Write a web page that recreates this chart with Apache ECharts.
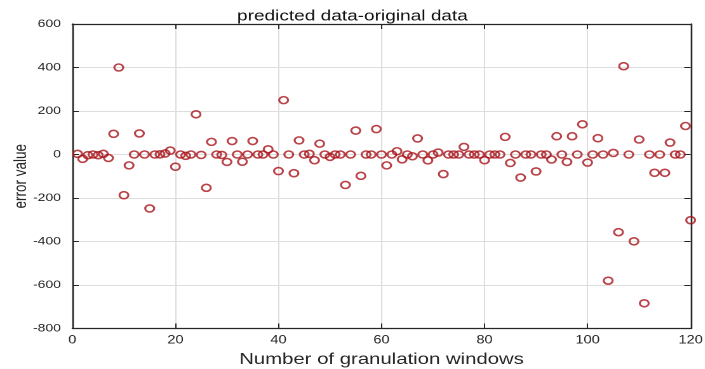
<!DOCTYPE html>
<html>
<head>
<meta charset="utf-8">
<title>predicted data-original data</title>
<script src="https://cdn.jsdelivr.net/npm/echarts@6/dist/echarts.min.js"></script>
<style>
  html, body { margin: 0; padding: 0; background: #ffffff; overflow: hidden; }
  #wrap { width: 705px; height: 369px; overflow: hidden; }
  /* the figure is drawn narrow and widened, like a stretched export */
  #chart { width: 555px; height: 369px; transform: scaleX(1.27); transform-origin: 0 0; }
</style>
</head>
<body>
<div id="wrap"><div id="chart"></div></div>
<script>
// granulation window index
const windows = [
  1, 2, 3, 4, 5, 6, 7, 8, 9, 10, 11, 12, 13, 14, 15, 16, 17, 18, 19, 20,
  21, 22, 23, 24, 25, 26, 27, 28, 29, 30, 31, 32, 33, 34, 35, 36, 37, 38, 39, 40,
  41, 42, 43, 44, 45, 46, 47, 48, 49, 50, 51, 52, 53, 54, 55, 56, 57, 58, 59, 60,
  61, 62, 63, 64, 65, 66, 67, 68, 69, 70, 71, 72, 73, 74, 75, 76, 77, 78, 79, 80,
  81, 82, 83, 84, 85, 86, 87, 88, 89, 90, 91, 92, 93, 94, 95, 96, 97, 98, 99, 100,
  101, 102, 103, 104, 105, 106, 107, 108, 109, 110, 111, 112, 113, 114, 115, 116, 117, 118, 119, 120
];

// predicted minus original, per window
const errorValues = [
  3, -20, -3, 0, -3, 3, -16, 95, 400, -187, -50, 0, 97, 0, -248, 0, 1, 5, 18, -56,
  0, -6, 0, 185, -2, -153, 58, 0, -2, -34, 62, 0, -33, 0, 62, 0, 0, 24, 0, -76,
  250, 0, -86, 65, 0, 3, -26, 50, 0, -11, 0, 0, -140, 0, 110, -98, 0, 0, 117, 0,
  -50, 0, 15, -22, 0, -8, 74, 0, -27, 0, 9, -90, 0, 0, 0, 35, 0, 0, 0, -26,
  0, 0, 0, 81, -39, 0, -106, 0, 0, -78, 0, 0, -23, 84, 0, -34, 84, 0, 139, -37,
  0, 75, 0, -580, 7, -357, 406, 0, -399, 69, -684, 0, -84, 0, -84, 55, 0, 0, 131, -302
];

const xTicks = [0, 20, 40, 60, 80, 100, 120];
const yTicks = [-800, -600, -400, -200, 0, 200, 400, 600];

const titleText = 'predicted data-original data';
const xName = 'Number of granulation windows';
const yName = 'error value';

const points = windows.map((w, i) => [w, errorValues[i]]);

const FONT = '"Liberation Sans", Arial, sans-serif';
const INK = '#262626';
const AXIS = '#262626';
const GRID = '#dedede';
const MARK = '#a8141a';

const chart = echarts.init(document.getElementById('chart'), null, { renderer: 'canvas', devicePixelRatio: 2 });

const tickStyle = { show: true, inside: true, length: 5, lineStyle: { color: AXIS, width: 1 } };
const lineStyle = { show: true, onZero: false, lineStyle: { color: AXIS, width: 1.3 } };

chart.setOption({
  backgroundColor: '#ffffff',
  animation: false,
  title: {
    text: titleText,
    left: 'center',
    top: 4,
    textStyle: { fontFamily: FONT, fontSize: 15, fontWeight: 'normal', color: '#111111' }
  },
  grid: { left: 57, right: 11.2, top: 24, bottom: 40.5, containLabel: false, outerBoundsMode: 'none' },
  xAxis: [
    {
      type: 'value',
      position: 'bottom',
      min: xTicks[0],
      max: xTicks[xTicks.length - 1],
      interval: xTicks[1] - xTicks[0],
      name: xName,
      nameLocation: 'middle',
      nameGap: 20,
      nameTextStyle: { fontFamily: FONT, fontSize: 16, color: INK },
      axisLine: lineStyle,
      axisTick: tickStyle,
      axisLabel: {
        margin: 6, fontFamily: FONT, fontSize: 11.5, color: INK,
        formatter: v => xTicks.includes(v) ? String(v) : ''
      },
      splitLine: { show: true, lineStyle: { color: GRID, width: 1 } }
    },
    {
      type: 'value',
      position: 'top',
      min: xTicks[0],
      max: xTicks[xTicks.length - 1],
      interval: xTicks[1] - xTicks[0],
      axisLine: lineStyle,
      axisTick: tickStyle,
      axisLabel: { show: false },
      splitLine: { show: false }
    }
  ],
  yAxis: [
    {
      type: 'value',
      position: 'left',
      min: yTicks[0],
      max: yTicks[yTicks.length - 1],
      interval: yTicks[1] - yTicks[0],
      name: yName,
      nameLocation: 'middle',
      nameGap: 33,
      nameMoveOverlap: false,
      nameTextStyle: { fontFamily: FONT, fontSize: 13.5, color: INK },
      axisLine: lineStyle,
      axisTick: tickStyle,
      axisLabel: {
        margin: 9, fontFamily: FONT, fontSize: 11, color: INK,
        formatter: v => yTicks.includes(v) ? String(v) : ''
      },
      splitLine: { show: true, lineStyle: { color: GRID, width: 1 } }
    },
    {
      type: 'value',
      position: 'right',
      min: yTicks[0],
      max: yTicks[yTicks.length - 1],
      interval: yTicks[1] - yTicks[0],
      axisLine: lineStyle,
      axisTick: tickStyle,
      axisLabel: { show: false },
      splitLine: { show: false }
    }
  ],
  series: [
    {
      type: 'scatter',
      xAxisIndex: 0,
      yAxisIndex: 0,
      data: points,
      clip: false,
      symbol: 'circle',
      symbolSize: 7,
      itemStyle: { color: 'rgba(0,0,0,0)', borderColor: MARK, borderWidth: 1.6 },
      emphasis: { disabled: true }
    }
  ]
});
</script>
</body>
</html>
